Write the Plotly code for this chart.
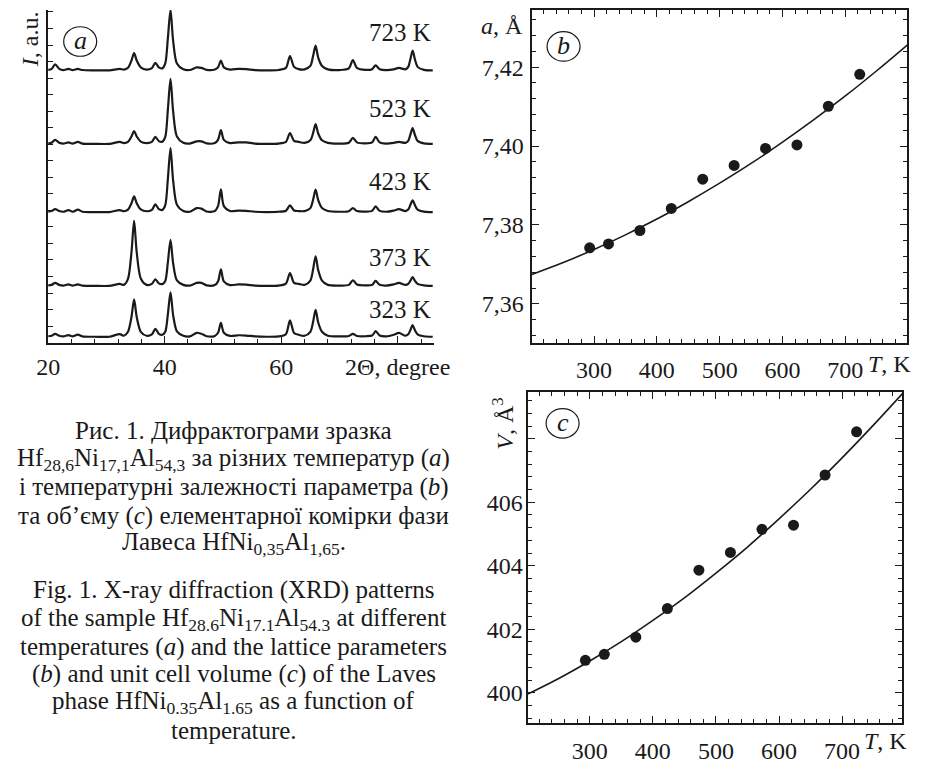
import plotly.graph_objects as go

# ---------------- data ----------------
temps_labels = ["723 K", "523 K", "423 K", "373 K", "323 K"]

two_theta = [
    20.0, 20.6, 21.2, 21.9, 22.6, 23.5, 24.2, 25.1, 25.9, 28.0,
    30.5, 32.3, 33.0, 33.7, 34.3, 34.75, 35.2, 35.9, 36.9, 37.8,
    38.4, 39.0, 39.6, 40.1, 40.55, 41.0, 41.45, 42.1, 43.2, 44.3,
    45.5, 46.3, 47.2, 48.6, 49.15, 49.65, 50.15, 51.2, 52.7, 54.0,
    55.5, 57.5, 59.5, 60.8, 61.5, 62.2, 63.0, 64.0, 65.0, 65.45,
    65.9, 66.35, 67.0, 68.0, 70.0, 71.6, 72.3, 73.0, 74.5, 75.6,
    76.2, 76.9, 78.0, 79.3, 80.2, 81.3, 81.8, 82.15, 82.55, 82.95,
    83.4, 84.5, 86.0]

I_723 = [0.5, 1.5, 6, 1.5, 0.3, 1.5, 0.3, 1.5, 0.3, 0,
         0, 1.5, 0.8, 2.6, 10, 17.6, 10, 3, 0.8, 2.3,
         7.6, 3, 2, 7, 33, 61.5, 30, 7, 1, 0.3,
         3, 2.5, 0.5, 0.8, 3, 10, 3, 0.8, 1.5, 1.2,
         0.3, 0, 0.3, 2.5, 14.5, 3.5, 1.2, 1, 4.5, 14,
         25, 13, 4.5, 1, 0.3, 2, 10.5, 2.5, 0.5, 1.2,
         5, 1.2, 0.3, 1, 2.5, 1, 3.5, 11, 20, 11,
         3.5, 0.5, 0]
I_523 = [0.5, 1.2, 4, 1.2, 0.3, 1.5, 0.3, 2, 0.3, 0,
         0, 2, 0.8, 2, 7.5, 13, 7.5, 2.2, 0.8, 2,
         7, 2.8, 2.2, 7, 35, 66, 33, 7.5, 1, 0.3,
         2.5, 2.5, 0.5, 0.8, 4, 14, 4, 0.8, 1.5, 1.5,
         0.3, 0, 0.3, 2, 11, 3, 2, 1, 3.6, 10.5,
         20, 10.5, 3.6, 1, 0.3, 1.2, 6, 1.5, 0.5, 1.5,
         7, 1.5, 0.3, 1, 2, 1, 3, 9, 16, 9,
         3, 0.5, 0]
I_423 = [0.5, 1, 3, 1, 0.3, 2, 0.3, 2.5, 0.3, 0,
         0, 2, 0.8, 2.4, 9, 16, 9, 2.6, 0.8, 2.2,
         7.7, 3, 2.2, 7, 34, 65, 32, 7.5, 1, 0.3,
         4, 3.5, 0.5, 1, 6, 23, 6, 1, 1.5, 1.2,
         0.3, 0, 0.3, 1.3, 6.7, 1.6, 1, 1, 4, 12,
         22.7, 12, 4, 1, 0.3, 0.8, 4, 1, 0.5, 1.2,
         5.7, 1.2, 0.3, 1.5, 3, 1, 2.5, 7, 12, 7,
         2.5, 0.5, 0]
I_373 = [0.5, 1, 3, 1, 0.3, 1.5, 0.3, 1.5, 0.3, 0,
         0, 2, 1, 7, 34, 66, 34, 7.5, 1, 2,
         6.7, 2.5, 1.8, 5, 24, 46.7, 23, 5.5, 1, 0.3,
         3, 3, 0.5, 0.8, 4.5, 16.7, 4.5, 0.8, 1.5, 1.2,
         0.3, 0, 0.3, 2.2, 13, 3, 2, 1, 5.4, 16,
         30, 16, 5.4, 1, 0.3, 1, 5.7, 1.3, 0.5, 1,
         5, 1, 0.3, 1.5, 3, 1, 2, 5, 9, 5,
         2, 0.5, 0]
I_323 = [0.5, 1, 3, 1, 0.3, 1.7, 0.3, 2.2, 0.3, 0,
         0, 2.7, 1, 5, 20, 38, 20, 5, 1, 2.4,
         8, 3, 2, 5, 23, 45, 22, 5.5, 1, 0.3,
         4, 3, 0.5, 0.8, 4, 14, 4, 0.8, 1.5, 1.2,
         0.3, 0, 0.3, 2.6, 16.7, 3.8, 2, 1, 5, 14.5,
         27.3, 14.5, 5, 1, 0.3, 0.8, 3, 0.8, 0.5, 1.2,
         5.7, 1.2, 0.3, 2, 4, 1, 2.5, 6.5, 11.7, 6.5,
         2.5, 0.5, 0]

xrd_ticks = [20, 40, 60, 80]
xrd_ticktext = ["20", "40", "60", "2\u0398, degree"]

# lattice parameter / volume vs temperature
T_points = [293, 323, 373, 423, 473, 523, 573, 623, 673, 723]
a_points = [7.3742, 7.3752, 7.3786, 7.3842, 7.3916, 7.3951, 7.3994, 7.4003, 7.4101, 7.4182]
V_points = [401.02, 401.21, 401.75, 402.65, 403.86, 404.42, 405.15, 405.28, 406.86, 408.22]

T_fit = [200, 250, 300, 350, 400, 450, 500, 550, 600, 650, 700, 750, 800]
a_fit = [7.3674, 7.3704, 7.3738, 7.3775, 7.3815, 7.3859, 7.3906, 7.3956, 7.4010,
         7.4067, 7.4127, 7.4191, 7.4258]
V_fit = [399.94, 400.44, 401.00, 401.61, 402.28, 402.99, 403.77, 404.59, 405.48,
         406.41, 407.40, 408.44, 409.52]

T_ticks = [300, 400, 500, 600, 700]
a_ticks = [7.36, 7.38, 7.40, 7.42]
a_ticktext = ["7,36", "7,38", "7,40", "7,42"]
V_ticks = [400, 402, 404, 406, 408]
V_ticktext = ["400", "402", "404", "406", ""]

caption_lines = [
    "Рис. 1. Дифрактограми зразка",
    "Hf<sub>28,6</sub>Ni<sub>17,1</sub>Al<sub>54,3</sub> за різних температур (<i>a</i>)",
    "і температурні залежності параметра (<i>b</i>)",
    "та об’єму (<i>c</i>) елементарної комірки фази",
    "Лавеса HfNi<sub>0,35</sub>Al<sub>1,65</sub>.",
    "Fig. 1. X-ray diffraction (XRD) patterns",
    "of the sample Hf<sub>28.6</sub>Ni<sub>17.1</sub>Al<sub>54.3</sub> at different",
    "temperatures (<i>a</i>) and the lattice parameters",
    "(<i>b</i>) and unit cell volume (<i>c</i>) of the Laves",
    "phase HfNi<sub>0.35</sub>Al<sub>1.65</sub> as a function of",
    "temperature.",
]

# ---------------- layout helpers ----------------
# the page body has an 8 px margin, so the figure is 8 px smaller and
# every reference pixel position is shifted by that margin
PAGE_MARGIN = 8
W, H = 928 - PAGE_MARGIN, 764 - PAGE_MARGIN
FONT = "Liberation Serif, Times New Roman, serif"
INK = "#1a1a1a"


def px(x):
    return min(max((x - PAGE_MARGIN) / W, 0), 1)


def py(y):
    return min(max(1 - (y - PAGE_MARGIN) / H, 0), 1)


fig = go.Figure()

# XRD patterns (stacked)
offsets = [276.7, 202.0, 132.7, 57.7, 6.0]
series = [I_723, I_523, I_423, I_373, I_323]
for vals, off in zip(series, offsets):
    fig.add_trace(go.Scatter(
        x=two_theta, y=[v + off for v in vals], mode="lines",
        line=dict(color=INK, width=2.2, shape="spline", smoothing=0.8),
        xaxis="x", yaxis="y", showlegend=False, hoverinfo="skip"))

# panel b
fig.add_trace(go.Scatter(x=T_fit, y=a_fit, mode="lines",
                         line=dict(color=INK, width=1.6, shape="spline"),
                         xaxis="x2", yaxis="y2", showlegend=False))
fig.add_trace(go.Scatter(x=T_points, y=a_points, mode="markers",
                         marker=dict(color=INK, size=11),
                         xaxis="x2", yaxis="y2", showlegend=False))
# panel c
fig.add_trace(go.Scatter(x=T_fit, y=V_fit, mode="lines",
                         line=dict(color=INK, width=1.6, shape="spline"),
                         xaxis="x3", yaxis="y3", showlegend=False))
fig.add_trace(go.Scatter(x=T_points, y=V_points, mode="markers",
                         marker=dict(color=INK, size=11),
                         xaxis="x3", yaxis="y3", showlegend=False))

tickfont = dict(family=FONT, size=24, color=INK)
common = dict(showgrid=False, zeroline=False, showline=True, linecolor=INK,
              linewidth=2, ticks="inside", tickcolor=INK, tickwidth=1.2,
              tickfont=tickfont)

fig.update_layout(
    width=W, height=H, margin=dict(l=0, r=0, t=0, b=0),
    paper_bgcolor="white", plot_bgcolor="white", showlegend=False,
    font=dict(family=FONT, color=INK),
    xaxis=dict(domain=[px(37), px(435)], range=[20, 86.3], anchor="y",
               tickmode="array", tickvals=xrd_ticks, ticktext=xrd_ticktext,
               ticklen=7, ticklabelstandoff=2,
               minor=dict(tickmode="linear", tick0=20, dtick=4, ticks="inside",
                          ticklen=4, tickcolor=INK), **common),
    yaxis=dict(domain=[py(346), py(8)], range=[0, 338], anchor="x",
               tickmode="linear", tick0=0, dtick=16.8, ticklen=5,
               showticklabels=False, **common),
    xaxis2=dict(domain=[px(535), px(922)], range=[200.5, 798.5], anchor="y2",
                tickmode="array", tickvals=T_ticks, ticklen=7, mirror="allticks",
                ticklabelstandoff=4,
                minor=dict(tickmode="linear", tick0=200, dtick=20, ticks="inside",
                           ticklen=4, tickcolor=INK), **common),
    yaxis2=dict(domain=[py(346.7), py(8)], range=[7.35, 7.4345], anchor="x2",
                tickmode="array", tickvals=a_ticks, ticktext=a_ticktext,
                ticklen=7, mirror="allticks", ticklabelstandoff=1,
                minor=dict(tickmode="linear", tick0=7.36, dtick=0.004, ticks="inside",
                           ticklen=4, tickcolor=INK), **common),
    xaxis3=dict(domain=[px(531), px(917)], range=[201.5, 795.5], anchor="y3",
                tickmode="array", tickvals=T_ticks, ticklen=7, mirror="allticks",
                ticklabelstandoff=5,
                minor=dict(tickmode="linear", tick0=200, dtick=20, ticks="inside",
                           ticklen=4, tickcolor=INK), **common),
    yaxis3=dict(domain=[py(732.7), py(396)], range=[399.04, 409.48], anchor="x3",
                tickmode="array", tickvals=V_ticks, ticktext=V_ticktext,
                ticklen=7, mirror="allticks", ticklabelstandoff=-2,
                minor=dict(tickmode="linear", tick0=400, dtick=0.4, ticks="inside",
                           ticklen=4, tickcolor=INK), **common),
)

ann = []


def add_text(text, x, y, size=24, xanchor="center", yanchor="middle", angle=0):
    ann.append(dict(text=text, x=px(x), y=py(y), xref="paper", yref="paper",
                    xanchor=xanchor, yanchor=yanchor, showarrow=False,
                    textangle=angle, font=dict(family=FONT, size=size, color=INK)))


# temperature labels
for lab, ycen in zip(temps_labels, [31, 108, 182, 259, 312]):
    add_text(lab, 434, ycen, size=25, xanchor="right")

# axis titles
add_text("<i>I</i>, a.u.", 18, 38, size=24, angle=-90)
add_text("<i>a</i>, Å", 505, 24, size=24)
add_text("<i>V</i>, Å<sup>3</sup>", 506, 428, size=24, angle=-90)
add_text("<i>T</i>, K", 904, 368, size=24)
add_text("<i>T</i>, K", 900, 751, size=24)

# panel letters in circles
for letter, cx, cy in [("a", 70, 40), ("b", 568, 45), ("c", 567, 428)]:
    add_text("<i>%s</i>" % letter, cx, cy - 1, size=26)
    fig.add_shape(type="circle", xref="paper", yref="paper",
                  x0=px(cx - 17), x1=px(cx + 17), y0=py(cy + 15), y1=py(cy - 15),
                  line=dict(color=INK, width=1.2))

# caption
for line, ycen in zip(caption_lines, [435, 465, 493, 522, 550, 597, 627, 655, 683, 712, 740]):
    add_text(line, 228, ycen, size=25)

fig.update_layout(annotations=ann)
fig.write_html("out.html")
